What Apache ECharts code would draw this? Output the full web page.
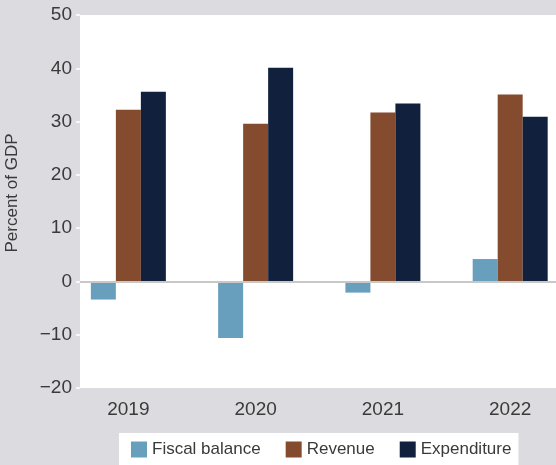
<!DOCTYPE html>
<html>
<head>
<meta charset="utf-8">
<script src="https://cdn.jsdelivr.net/npm/echarts@6/dist/echarts.min.js"></script>
<style>
html,body{margin:0;padding:0;background:#dcdbe0;}
#chart{width:556px;height:465px;}
</style>
</head>
<body>
<div id="chart"></div>
<script>
var years = [2019, 2020, 2021, 2022];
var fiscalBalance = [-3.4, -10.6, -2.1, 4.2];
var revenue = [32.2, 29.6, 31.7, 35.1];
var expenditure = [35.6, 40.1, 33.4, 30.9];
var seriesNames = ['Fiscal balance', 'Revenue', 'Expenditure'];
var yTicks = [-20, -10, 0, 10, 20, 30, 40, 50];

var font = '"Liberation Sans", Arial, sans-serif';
var txt = '#3a3a3a';

function pairs(vals){
	var out = [];
	for(var i=0;i<years.length;i++){
		out.push([years[i], vals[i]]);
	}
	return out;
}

var chart = echarts.init(document.getElementById('chart'));
var option = {
	backgroundColor: '#dcdbe0',
	animation: false,
	textStyle: {fontFamily: font},
	grid: {
		left: 80, right: 0, top: 15, bottom: 77,
		show: true, backgroundColor: '#ffffff', borderWidth: 0
	},
	legend: {
		left: 119, right: 0, top: 433,
		padding: [8, 7, 10, 12],
		backgroundColor: '#ffffff',
		itemGap: 25,
		itemWidth: 16, itemHeight: 16,
		icon: 'rect',
		textStyle: {fontFamily: font, fontSize: 17, color: txt},
		data: seriesNames
	},
	xAxis: {
		type: 'value',
		min: 2018.62, max: 2022.36,
		splitLine: {show: false},
		axisLine: {show: false},
		axisTick: {show: true, customValues: years, length: 5, lineStyle: {color: '#ffffff', width: 1.5}},
		axisLabel: {
			customValues: years, margin: 12,
			fontFamily: font, fontSize: 19, color: txt,
			formatter: function(v){ return String(Math.round(v)); }
		}
	},
	yAxis: {
		type: 'value',
		min: yTicks[0], max: yTicks[yTicks.length-1], interval: 10,
		splitLine: {show: false},
		axisLine: {show: false},
		axisTick: {show: true, length: 4, lineStyle: {color: '#ffffff', width: 1.5}},
		axisLabel: {
			margin: 8, fontFamily: font, fontSize: 19, color: txt,
			formatter: function(v){ return String(v).replace('-', '\u2212'); }
		}
	},
	graphic: [{
		type: 'text',
		x: 12, y: 193,
		rotation: Math.PI/2,
		style: {
			text: 'Percent of GDP',
			font: '17px ' + font,
			fill: txt,
			align: 'center',
			verticalAlign: 'middle'
		}
	}],
	series: [{
		name: seriesNames[0], type: 'bar',
		barWidth: 25, barGap: '0%',
		itemStyle: {color: '#689fbd'},
		data: pairs(fiscalBalance),
		markLine: {
			silent: true, symbol: 'none',
			label: {show: false},
			lineStyle: {color: '#c8c8c8', width: 2, type: 'solid'},
			data: [{yAxis: 0}]
		}
	},{
		name: seriesNames[1], type: 'bar',
		barWidth: 25, barGap: '0%',
		itemStyle: {color: '#854b2e'},
		data: pairs(revenue)
	},{
		name: seriesNames[2], type: 'bar',
		barWidth: 25, barGap: '0%',
		itemStyle: {color: '#11213d'},
		data: pairs(expenditure)
	}]
};
chart.setOption(option);
</script>
</body>
</html>
